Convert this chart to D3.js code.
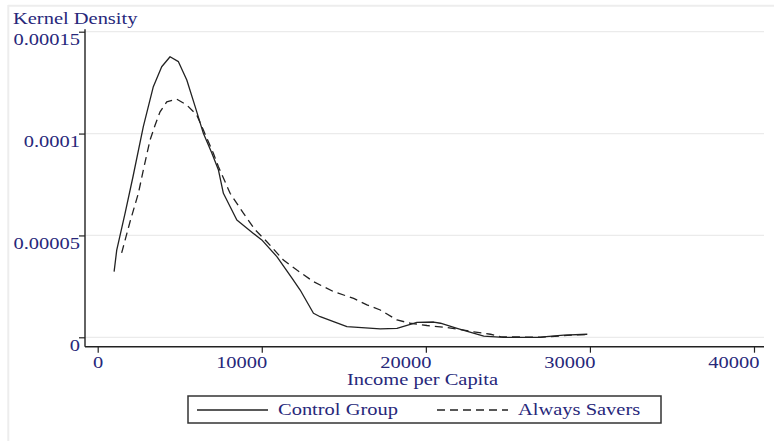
<!DOCTYPE html>
<html>
<head>
<meta charset="utf-8">
<script src="https://cdn.jsdelivr.net/npm/d3@7/dist/d3.min.js"></script>
<style>
  html, body { margin: 0; padding: 0; background: #fff; }
  svg { display: block; }
</style>
</head>
<body>
<svg id="chart" width="774" height="441"></svg>
<script>
// ---- data ----
const seriesNames = ["Control Group", "Always Savers"];
const controlIncome = [1000, 1160, 1670, 2150, 2780, 3390, 3900, 4410, 4920, 5430, 5940, 6440, 6960, 7360, 7660, 8480, 9490, 10000, 10920, 11840, 12340, 13150, 13560, 15190, 17220, 18240, 19460, 20480, 20890, 21900, 23530, 24730, 26790, 28410, 29840];
const controlDensity = [3.22e-5, 4.28e-5, 6.10e-5, 7.88e-5, 1.034e-4, 1.230e-4, 1.328e-4, 1.377e-4, 1.353e-4, 1.263e-4, 1.132e-4, 1.001e-4, 9.03e-5, 8.21e-5, 7.07e-5, 5.76e-5, 5.10e-5, 4.78e-5, 3.96e-5, 2.90e-5, 2.32e-5, 1.18e-5, 1.01e-5, 5.2e-6, 4.1e-6, 4.4e-6, 7.3e-6, 7.5e-6, 6.9e-6, 4.4e-6, 6e-7, 0, 0, 1.1e-6, 1.5e-6];
const saversIncome = [1460, 1970, 2480, 2780, 3190, 3500, 3800, 4210, 4820, 5430, 6040, 6440, 7050, 7360, 8070, 8880, 9600, 10310, 11320, 12140, 13150, 14380, 15600, 16410, 17220, 18240, 19050, 20070, 21290, 22920, 23940, 24550, 26990, 28620, 29790];
const saversDensity = [4.14e-5, 5.67e-5, 7.07e-5, 8.21e-5, 9.68e-5, 1.042e-4, 1.107e-4, 1.156e-4, 1.169e-4, 1.140e-4, 1.091e-4, 1.017e-4, 9.03e-5, 8.37e-5, 7.07e-5, 6.09e-5, 5.27e-5, 4.69e-5, 3.79e-5, 3.30e-5, 2.73e-5, 2.24e-5, 1.91e-5, 1.59e-5, 1.34e-5, 8.5e-6, 6.9e-6, 5.8e-6, 4.8e-6, 2.7e-6, 1.5e-6, 3e-7, 0, 9e-7, 1.4e-6];
const xTicks = [0, 10000, 20000, 30000, 40000];
const xTickLabels = ["0", "10000", "20000", "30000", "40000"];
const yTicks = [0, 0.00005, 0.0001, 0.00015];
const yTickLabels = ["0", "0.00005", "0.0001", "0.00015"];
const yTitle = "Kernel Density";
const xTitle = "Income per Capita";

// ---- layout ----
const svg = d3.select("#chart");
const TEXT = "#27277a";
const INK = "#222";
const SX = 1.28; // horizontal stretch of text in the reference
const FONT = "'Liberation Serif', 'Times New Roman', serif";

const axisLeftX = 85, axisRightX = 764, axisBottomY = 346.7, axisTopY = 29.3;
const x = d3.scaleLinear().domain([0, 40000]).range([97.7, 754]);
const y = d3.scaleLinear().domain([0, 0.00015]).range([337.3, 31.7]);

// faint outer frame
svg.append("line").attr("x1", 8).attr("x2", 774).attr("y1", 5.7).attr("y2", 5.7)
  .attr("stroke", "#ededed").attr("stroke-width", 2);
svg.append("line").attr("x1", 8.3).attr("x2", 8.3).attr("y1", 5).attr("y2", 441)
  .attr("stroke", "#ededed").attr("stroke-width", 2);

// gridlines
svg.append("g").selectAll("line").data(yTicks).join("line")
  .attr("x1", axisLeftX).attr("x2", axisRightX)
  .attr("y1", d => y(d)).attr("y2", d => y(d))
  .attr("stroke", "#ebebeb").attr("stroke-width", 1.2);

// y axis
const yAxis = svg.append("g").attr("transform", `translate(${axisLeftX},0)`)
  .call(d3.axisLeft(y).tickValues(yTicks).tickFormat((d, i) => yTickLabels[i]).tickSize(6).tickSizeOuter(0));
yAxis.select(".domain").remove();
yAxis.selectAll(".tick line").attr("stroke", INK).attr("stroke-width", 1.2);
yAxis.selectAll(".tick text")
  .attr("fill", TEXT).attr("font-family", FONT).attr("font-size", 16)
  .attr("x", -5 / SX).attr("dy", null).attr("y", 13)
  .attr("transform", `scale(${SX},1)`);
svg.append("line").attr("x1", axisLeftX).attr("x2", axisLeftX)
  .attr("y1", axisTopY).attr("y2", axisBottomY).attr("stroke", INK).attr("stroke-width", 1.4);

// x axis
const xAxis = svg.append("g").attr("transform", `translate(0,${axisBottomY})`)
  .call(d3.axisBottom(x).tickValues(xTicks).tickFormat((d, i) => xTickLabels[i]).tickSize(6).tickSizeOuter(0));
xAxis.select(".domain").remove();
xAxis.selectAll(".tick line").attr("stroke", INK).attr("stroke-width", 1.2);
xAxis.selectAll(".tick text")
  .attr("fill", TEXT).attr("font-family", FONT).attr("font-size", 16)
  .attr("text-anchor", "end")
  .attr("x", 5 / SX).attr("dy", null).attr("y", 21.5)
  .attr("transform", `scale(${SX},1)`);
svg.append("line").attr("x1", axisLeftX).attr("x2", axisRightX)
  .attr("y1", axisBottomY).attr("y2", axisBottomY).attr("stroke", INK).attr("stroke-width", 1.4);

// titles
function stretchedText(str, tx, ty, anchor) {
  svg.append("text").text(str)
    .attr("transform", `translate(${tx},${ty}) scale(${SX},1)`)
    .attr("text-anchor", anchor || "start")
    .attr("fill", TEXT).attr("font-family", FONT).attr("font-size", 16);
}
stretchedText(yTitle, 13, 23.5, "start");
stretchedText(xTitle, 422.5, 385, "middle");

// curves
const line = d3.line().x(d => x(d[0])).y(d => y(d[1])).curve(d3.curveLinear);
const controlData = controlIncome.map((v, i) => [v, controlDensity[i]]);
const saversData = saversIncome.map((v, i) => [v, saversDensity[i]]);
svg.append("path").datum(controlData).attr("d", line)
  .attr("fill", "none").attr("stroke", INK).attr("stroke-width", 1.3).attr("stroke-linejoin", "round");
svg.append("path").datum(saversData).attr("d", line)
  .attr("fill", "none").attr("stroke", INK).attr("stroke-width", 1.3).attr("stroke-dasharray", "8,5");

// legend
svg.append("rect").attr("x", 188).attr("y", 396).attr("width", 473).attr("height", 27)
  .attr("fill", "#fff").attr("stroke", "#333").attr("stroke-width", 1.5);
const legendItems = [
  { name: seriesNames[0], x1: 197, x2: 268, tx: 278, dash: null },
  { name: seriesNames[1], x1: 437, x2: 508, tx: 518, dash: "8,5" }
];
legendItems.forEach(it => {
  svg.append("line").attr("x1", it.x1).attr("x2", it.x2).attr("y1", 410).attr("y2", 410)
    .attr("stroke", INK).attr("stroke-width", 1.3).attr("stroke-dasharray", it.dash);
  stretchedText(it.name, it.tx, 415, "start");
});
</script>
</body>
</html>
